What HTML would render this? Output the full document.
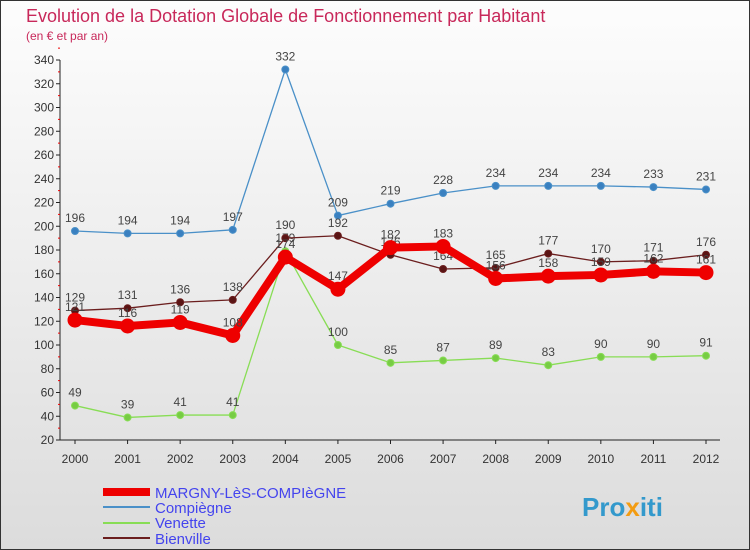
<!DOCTYPE html>
<html><head><meta charset="utf-8"><style>
body{margin:0;width:750px;height:550px;overflow:hidden;font-family:"Liberation Sans",sans-serif}
svg{display:block}
</style></head><body>
<svg id="c" width="750" height="550">
<defs><linearGradient id="bg" x1="0" y1="0" x2="0" y2="1"><stop offset="0" stop-color="#fdfdfd"/><stop offset="1" stop-color="#dcdcdc"/></linearGradient></defs>
<rect x="0.5" y="0.5" width="749" height="549" fill="url(#bg)" stroke="#333"/>
<text x="26" y="22" font-size="18" fill="#c8285a" font-weight="300">Evolution de la Dotation Globale de Fonctionnement par Habitant</text>
<text x="26" y="40" font-size="12" fill="#c8285a">(en € et par an)</text>
<g id="axes"></g><g id="series"></g>
<g>
<line x1="103" y1="492" x2="150" y2="492" stroke="#e00" stroke-width="8"/><text x="155" y="498" font-size="15" fill="#44e">MARGNY-LèS-COMPIèGNE</text>
<line x1="103" y1="507" x2="150" y2="507" stroke="#4a90c8" stroke-width="2"/><text x="155" y="513" font-size="15" fill="#44e">Compiègne</text>
<line x1="103" y1="523" x2="150" y2="523" stroke="#88dd55" stroke-width="2"/><text x="155" y="528" font-size="15" fill="#44e">Venette</text>
<line x1="103" y1="538" x2="150" y2="538" stroke="#6b1e1e" stroke-width="2"/><text x="155" y="544" font-size="15" fill="#44e">Bienville</text>
</g>
<text x="582" y="516" font-size="26" font-weight="bold" fill="#3399cc">Pro<tspan fill="#f39c12">x</tspan>iti</text>
</svg>
<script>
const years=[2000,2001,2002,2003,2004,2005,2006,2007,2008,2009,2010,2011,2012];
const yTicks=[20,40,60,80,100,120,140,160,180,200,220,240,260,280,300,320,340];
const margny=[121,116,119,108,174,147,182,183,156,158,159,162,161];
const compiegne=[196,194,194,197,332,209,219,228,234,234,234,233,231];
const venette=[49,39,41,41,179,100,85,87,89,83,90,90,91];
const bienville=[129,131,136,138,190,192,176,164,165,177,170,171,176];
const NS="http://www.w3.org/2000/svg";
const X=i=>75+i*(706-75)/(years.length-1);
const Y=v=>440-(v-20)*380/320;
function mk(p,t,a){const e=document.createElementNS(NS,t);for(const k in a)e.setAttribute(k,a[k]);p.appendChild(e);return e;}
const ax=document.getElementById('axes');
const yl=mk(ax,'line',{x1:60,y1:60,x2:60,y2:440,stroke:'#222'});


const xl=mk(ax,'line',{x1:60,y1:440,x2:720,y2:440,stroke:'#222'});


yTicks.forEach(v=>{mk(ax,'line',{x1:56,x2:60,y1:Y(v),y2:Y(v),stroke:'#222'});
mk(ax,'line',{x1:58,x2:60,y1:Y(v+10),y2:Y(v+10),stroke:'#e00'});
const t=mk(ax,'text',{x:54,y:Y(v)+4,'font-size':12,'text-anchor':'end',fill:'#333'});t.textContent=v;

});
years.forEach((y,i)=>{mk(ax,'line',{x1:X(i),x2:X(i),y1:440,y2:444,stroke:'#222'});
const t=mk(ax,'text',{x:X(i),y:463,'font-size':12,'text-anchor':'middle',fill:'#333'});t.textContent=y;

});
const sg=document.getElementById('series');
function draw(name,data,color,w,r,dot){
const g=mk(sg,'g',{});


mk(g,'polyline',{points:data.map((v,i)=>X(i)+','+Y(v)).join(' '),fill:'none',stroke:color,'stroke-width':w,'stroke-linejoin':'round'});
data.forEach((v,i)=>{const c=mk(g,'circle',{cx:X(i),cy:Y(v),r:r,fill:dot,stroke:color,'stroke-width':1});


const t=mk(g,'text',{x:X(i),y:Y(v)-9,'font-size':12,'text-anchor':'middle',fill:'#444'});t.textContent=v;

});}
draw('compiegne',compiegne,'#4a90c8',1.3,3.5,'#3a80c0');
draw('venette',venette,'#88dd55',1.3,3.5,'#77cc44');
draw('bienville',bienville,'#6b1e1e',1.3,3.5,'#5a1414');
draw('margny',margny,'#ee0000',8,7,'#ee0000');
</script>
</body></html>
